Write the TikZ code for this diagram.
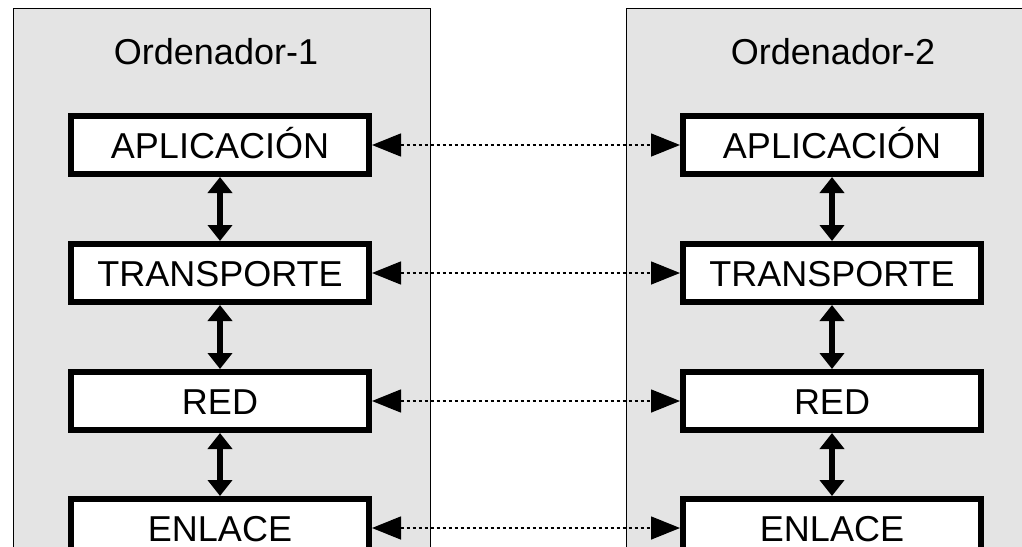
\documentclass[tikz,border=0pt]{standalone}
\usepackage{xcolor}
\usepackage{fontspec}
\setmainfont{Liberation Sans}
\usepackage{tikz}
\usetikzlibrary{arrows.meta}

\definecolor{panelgray}{RGB}{228,228,228}

\tikzset{
  capa/.style={draw=black, fill=white, line width=6pt, minimum width=298pt,
    minimum height=58pt, inner sep=0pt, text height=26pt, text depth=0pt,
    font=\fontsize{36}{40}\selectfont},
  titulo/.style={inner sep=0pt, text height=25pt, text depth=0pt,
    font=\fontsize{36}{40}\selectfont},
  pila/.style={line width=5.5pt, {Triangle[width=24pt,length=16pt]}-{Triangle[width=24pt,length=16pt]}},
  enlace/.style={line width=1.5pt, dash pattern=on 3pt off 3pt,
    {Triangle[width=23pt,length=29pt]}-{Triangle[width=23pt,length=29pt]}}
}

\begin{document}
\begin{tikzpicture}[x=1pt, y=-1pt]
					\useasboundingbox (0, 0) rectangle (1022, 546);
					\clip (0, 0) rectangle (1022, 546);
					\fill[white] (0, 0) rectangle (1022, 546);

					% los dos ordenadores
					\draw[fill=panelgray, line width=1pt] (13, 8) rectangle (430, 620);
					\draw[fill=panelgray, line width=1pt] (626, 8) rectangle (1100, 620);
					\node[titulo] (ord1) at (216, 52) {Ordenador-1};
					\node[titulo] (ord2) at (833, 52) {Ordenador-2};

					% capas del ordenador 1
					\node[capa] (app1) at (220, 145) {APLICACIÓN};
					\node[capa] (tra1) at (220, 273) {TRANSPORTE};
					\node[capa] (red1) at (220, 401) {RED};
					\node[capa] (enl1) at (220, 528) {ENLACE};

					% capas del ordenador 2
					\node[capa] (app2) at (832, 145) {APLICACIÓN};
					\node[capa] (tra2) at (832, 273) {TRANSPORTE};
					\node[capa] (red2) at (832, 401) {RED};
					\node[capa] (enl2) at (832, 528) {ENLACE};

					\draw[pila] (app1) -- (tra1);
					\draw[pila] (tra1) -- (red1);
					\draw[pila] (red1) -- (enl1);
					\draw[pila] (app2) -- (tra2);
					\draw[pila] (tra2) -- (red2);
					\draw[pila] (red2) -- (enl2);

					% comunicacion entre capas iguales
					\draw[enlace] (app1) -- (app2);
					\draw[enlace] (tra1) -- (tra2);
					\draw[enlace] (red1) -- (red2);
					\draw[enlace] (enl1) -- (enl2);
				\end{tikzpicture}
\end{document}
